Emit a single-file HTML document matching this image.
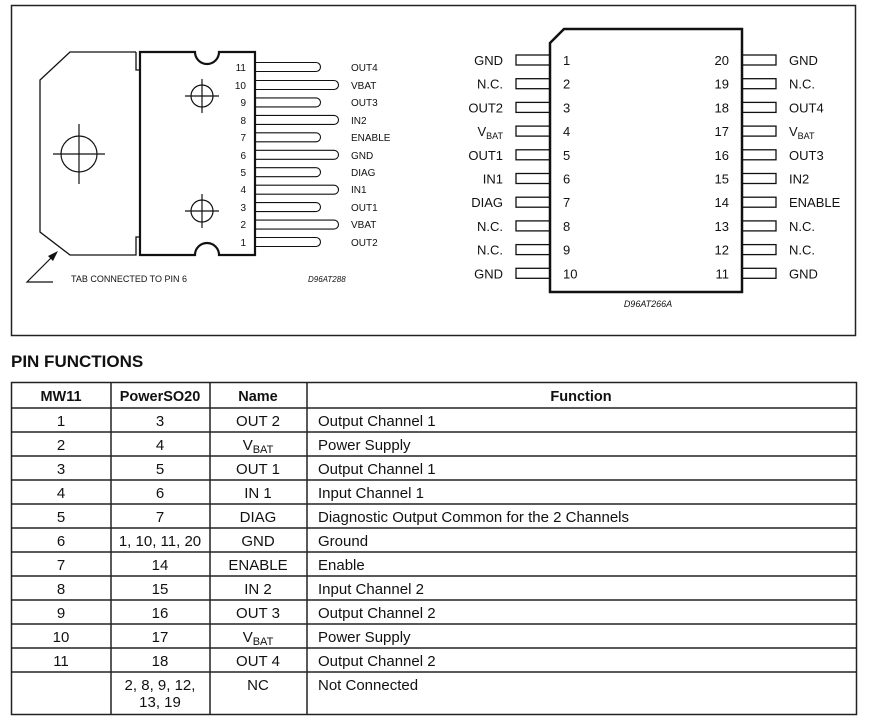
<!DOCTYPE html>
<html><head><meta charset="utf-8"><style>
html,body{margin:0;padding:0;background:#fff;}
svg{display:block;font-family:"Liberation Sans",Arial,sans-serif;}
</style></head><body>
<svg width="869" height="720" viewBox="0 0 869 720" xmlns="http://www.w3.org/2000/svg">
<rect x="0" y="0" width="869" height="720" fill="#fff"/>
<rect x="11.5" y="5.5" width="844" height="330" fill="none" stroke="#222" stroke-width="1.5"/>
<!-- Left package -->
<g fill="none" stroke="#111" stroke-width="1.3">
<path d="M136,52 H70 L40,80 V232 L70,255 H136 V237 H140 M136,52 V70 H140"/>
</g>
<path d="M140,52 H195 A12,12 0 0 0 219,52 H255 V255 H219 A12,12 0 0 0 195,255 H140 Z" fill="none" stroke="#111" stroke-width="2.2"/>
<g fill="none" stroke="#111" stroke-width="1.2">
<circle cx="79" cy="154" r="18"/><path d="M53,154 H105 M79,124 V184"/>
<circle cx="202" cy="96" r="11"/><path d="M185,96 H219 M202,79 V113"/>
<circle cx="202" cy="211" r="11"/><path d="M185,211 H219 M202,194 V228"/>
</g>
<g fill="none" stroke="#111" stroke-width="1.1">
<path d="M256,62.5 H316 a4.5,4.5 0 0 1 0,9 H256"/>
<path d="M256,80.5 H334 a4.5,4.5 0 0 1 0,9 H256"/>
<path d="M256,97.9 H316 a4.5,4.5 0 0 1 0,9 H256"/>
<path d="M256,115.4 H334 a4.5,4.5 0 0 1 0,9 H256"/>
<path d="M256,132.8 H316 a4.5,4.5 0 0 1 0,9 H256"/>
<path d="M256,150.3 H334 a4.5,4.5 0 0 1 0,9 H256"/>
<path d="M256,167.7 H316 a4.5,4.5 0 0 1 0,9 H256"/>
<path d="M256,185.2 H334 a4.5,4.5 0 0 1 0,9 H256"/>
<path d="M256,202.6 H316 a4.5,4.5 0 0 1 0,9 H256"/>
<path d="M256,220.1 H334 a4.5,4.5 0 0 1 0,9 H256"/>
<path d="M256,237.5 H316 a4.5,4.5 0 0 1 0,9 H256"/>
</g>
<g font-size="10" fill="#111">
<g text-anchor="end">
<text x="246" y="71">11</text><text x="246" y="89">10</text><text x="246" y="106">9</text><text x="246" y="124">8</text><text x="246" y="141">7</text><text x="246" y="159">6</text><text x="246" y="176">5</text><text x="246" y="193">4</text><text x="246" y="211">3</text><text x="246" y="228">2</text><text x="246" y="246">1</text>
</g>
<text x="351" y="71">OUT4</text><text x="351" y="89">VBAT</text><text x="351" y="106">OUT3</text><text x="351" y="124">IN2</text><text x="351" y="141">ENABLE</text><text x="351" y="159">GND</text><text x="351" y="176">DIAG</text><text x="351" y="193">IN1</text><text x="351" y="211">OUT1</text><text x="351" y="228">VBAT</text><text x="351" y="246">OUT2</text>
<text x="71" y="282" font-size="9">TAB CONNECTED TO PIN 6</text>
<text x="308" y="282" font-size="8" font-style="italic">D96AT288</text>
</g>
<path d="M53,282 H27 L54,255" fill="none" stroke="#111" stroke-width="1.2"/>
<path d="M58,251 L48,256 L53,261 Z" fill="#111"/>
<!-- Right package -->
<path d="M564,29 H742 V292 H550 V43 Z" fill="none" stroke="#111" stroke-width="2.5"/>
<g fill="none" stroke="#111" stroke-width="1.3">
<rect x="516" y="55" width="34" height="10"/><rect x="516" y="78.7" width="34" height="10"/><rect x="516" y="102.4" width="34" height="10"/><rect x="516" y="126.1" width="34" height="10"/><rect x="516" y="149.8" width="34" height="10"/><rect x="516" y="173.5" width="34" height="10"/><rect x="516" y="197.2" width="34" height="10"/><rect x="516" y="220.9" width="34" height="10"/><rect x="516" y="244.6" width="34" height="10"/><rect x="516" y="268.3" width="34" height="10"/>
<rect x="742" y="55" width="34" height="10"/><rect x="742" y="78.7" width="34" height="10"/><rect x="742" y="102.4" width="34" height="10"/><rect x="742" y="126.1" width="34" height="10"/><rect x="742" y="149.8" width="34" height="10"/><rect x="742" y="173.5" width="34" height="10"/><rect x="742" y="197.2" width="34" height="10"/><rect x="742" y="220.9" width="34" height="10"/><rect x="742" y="244.6" width="34" height="10"/><rect x="742" y="268.3" width="34" height="10"/>
</g>
<g font-size="13" fill="#111">
<g text-anchor="end">
<text x="503" y="65">GND</text><text x="503" y="88.7">N.C.</text><text x="503" y="112.4">OUT2</text><text x="503" y="136.1">V<tspan font-size="9" dy="3">BAT</tspan></text><text x="503" y="159.8">OUT1</text><text x="503" y="183.5">IN1</text><text x="503" y="207.2">DIAG</text><text x="503" y="230.9">N.C.</text><text x="503" y="254.6">N.C.</text><text x="503" y="278.3">GND</text>
<text x="729" y="65">20</text><text x="729" y="88.7">19</text><text x="729" y="112.4">18</text><text x="729" y="136.1">17</text><text x="729" y="159.8">16</text><text x="729" y="183.5">15</text><text x="729" y="207.2">14</text><text x="729" y="230.9">13</text><text x="729" y="254.6">12</text><text x="729" y="278.3">11</text>
</g>
<text x="563" y="65">1</text><text x="563" y="88.7">2</text><text x="563" y="112.4">3</text><text x="563" y="136.1">4</text><text x="563" y="159.8">5</text><text x="563" y="183.5">6</text><text x="563" y="207.2">7</text><text x="563" y="230.9">8</text><text x="563" y="254.6">9</text><text x="563" y="278.3">10</text>
<text x="789" y="65">GND</text><text x="789" y="88.7">N.C.</text><text x="789" y="112.4">OUT4</text><text x="789" y="136.1">V<tspan font-size="9" dy="3">BAT</tspan></text><text x="789" y="159.8">OUT3</text><text x="789" y="183.5">IN2</text><text x="789" y="207.2">ENABLE</text><text x="789" y="230.9">N.C.</text><text x="789" y="254.6">N.C.</text><text x="789" y="278.3">GND</text>
<text x="648" y="307" font-size="9" font-style="italic" text-anchor="middle">D96AT266A</text>
</g>
<!-- Table -->
<text x="11" y="367" font-size="17" font-weight="bold" fill="#111">PIN FUNCTIONS</text>
<g stroke="#222" stroke-width="1.5" fill="none">
<rect x="11.5" y="382.5" width="845" height="332"/>
<path d="M111,382 V715 M210,382 V715 M307,382 V715"/>
<path d="M11,408 H857 M11,432 H857 M11,456 H857 M11,480 H857 M11,504 H857 M11,528 H857 M11,552 H857 M11,576 H857 M11,600 H857 M11,624 H857 M11,648 H857 M11,672 H857"/>
</g>
<g font-size="15" fill="#111">
<g font-weight="bold" font-size="14.5" text-anchor="middle">
<text x="61" y="401">MW11</text><text x="160" y="401">PowerSO20</text><text x="258" y="401">Name</text><text x="581" y="401">Function</text>
</g>
<g text-anchor="middle">
<text x="61" y="426">1</text><text x="61" y="450">2</text><text x="61" y="474">3</text><text x="61" y="498">4</text><text x="61" y="522">5</text><text x="61" y="546">6</text><text x="61" y="570">7</text><text x="61" y="594">8</text><text x="61" y="618">9</text><text x="61" y="642">10</text><text x="61" y="666">11</text>
<text x="160" y="426">3</text><text x="160" y="450">4</text><text x="160" y="474">5</text><text x="160" y="498">6</text><text x="160" y="522">7</text><text x="160" y="546">1, 10, 11, 20</text><text x="160" y="570">14</text><text x="160" y="594">15</text><text x="160" y="618">16</text><text x="160" y="642">17</text><text x="160" y="666">18</text><text x="160" y="690">2, 8, 9, 12,</text><text x="160" y="707">13, 19</text>
<text x="258" y="426">OUT 2</text><text x="258" y="450">V<tspan font-size="11" dy="3">BAT</tspan></text><text x="258" y="474">OUT 1</text><text x="258" y="498">IN 1</text><text x="258" y="522">DIAG</text><text x="258" y="546">GND</text><text x="258" y="570">ENABLE</text><text x="258" y="594">IN 2</text><text x="258" y="618">OUT 3</text><text x="258" y="642">V<tspan font-size="11" dy="3">BAT</tspan></text><text x="258" y="666">OUT 4</text><text x="258" y="690">NC</text>
</g>
<text x="318" y="426">Output Channel 1</text><text x="318" y="450">Power Supply</text><text x="318" y="474">Output Channel 1</text><text x="318" y="498">Input Channel 1</text><text x="318" y="522">Diagnostic Output Common for the 2 Channels</text><text x="318" y="546">Ground</text><text x="318" y="570">Enable</text><text x="318" y="594">Input Channel 2</text><text x="318" y="618">Output Channel 2</text><text x="318" y="642">Power Supply</text><text x="318" y="666">Output Channel 2</text><text x="318" y="690">Not Connected</text>
</g>
</svg>
</body></html>
